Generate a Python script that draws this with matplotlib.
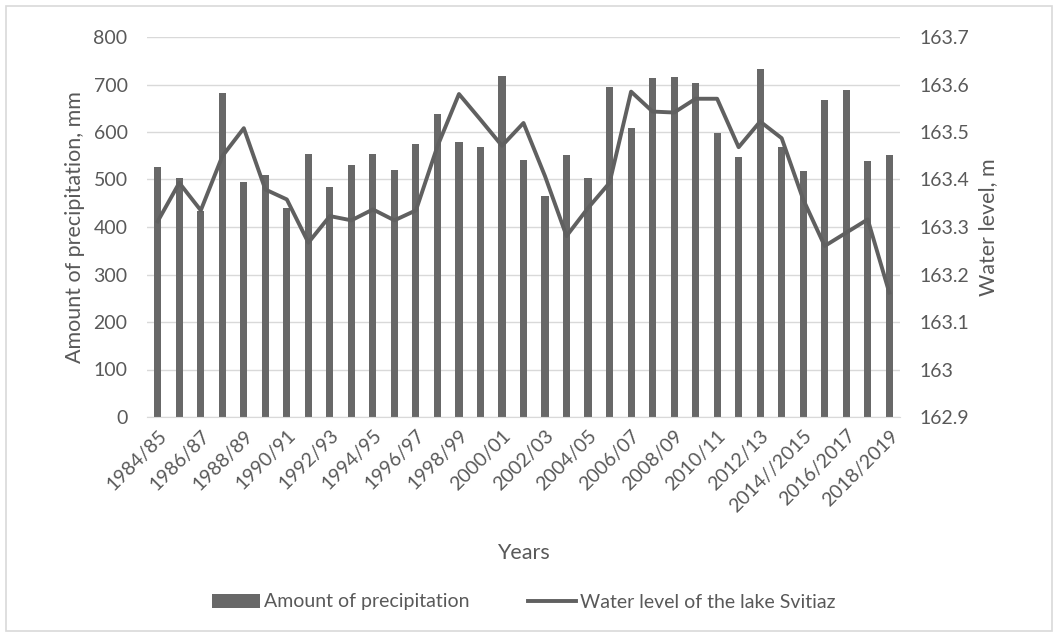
import numpy as np
import matplotlib
matplotlib.use("Agg")
from matplotlib import pyplot as plt
from matplotlib.patches import Rectangle

plt.rcParams['font.family'] = ['Lato', 'DejaVu Sans']

years = ["1984/85", "1985/86", "1986/87", "1987/88", "1988/89", "1989/90",
         "1990/91", "1991/92", "1992/93", "1993/94", "1994/95", "1995/96",
         "1996/97", "1997/98", "1998/99", "1999/00", "2000/01", "2001/02",
         "2002/03", "2003/04", "2004/05", "2005/06", "2006/07", "2007/08",
         "2008/09", "2009/10", "2010/11", "2011/12", "2012/13", "2013/14",
         "2014//2015", "2015/2016", "2016/2017", "2017/2018", "2018/2019"]

precipitation = [526, 503, 433, 682, 495, 510, 439, 554, 484, 530,
                 554, 519, 575, 638, 580, 568, 717, 542, 465, 552,
                 503, 694, 608, 713, 715, 703, 598, 547, 732, 568,
                 517, 668, 689, 538, 552]

water_level = [163.312, 163.393, 163.335, 163.449, 163.508, 163.379, 163.358,
               163.267, 163.323, 163.314, 163.337, 163.314, 163.335, 163.47,
               163.58, 163.526, 163.471, 163.519, 163.407, 163.281, 163.340,
               163.393, 163.585, 163.543, 163.541, 163.570, 163.570, 163.468,
               163.522, 163.487, 163.358, 163.260, 163.288, 163.316, 163.162]

txt = "#595959"
fig = plt.figure(figsize=(10.58, 6.37), dpi=100)
ax = fig.add_axes([147/1058, 1 - 417/637, 753/1058, 380/637])
ax2 = ax.twinx()

x = np.arange(len(years))
ax.bar(x, precipitation, width=0.33, color="#686868",
       label="Amount of precipitation", zorder=2)
ax2.plot(x, water_level, color="#606060", linewidth=2.8,
         label="Water level of the lake Svitiaz", zorder=3)

ax.set_xlim(-0.5, len(years) - 0.5)
ax.set_ylim(0, 800)
ax.set_yticks(range(0, 801, 100))
ax2.set_ylim(162.9, 163.7)
ax2.set_yticks(np.round(np.arange(162.9, 163.71, 0.1), 1))
ax2.set_yticklabels(["162.9", "163", "163.1", "163.2", "163.3", "163.4",
                     "163.5", "163.6", "163.7"])

ax.set_xticks(x[::2])
ax.set_xticklabels(years[::2], rotation=45, ha="right",
                   rotation_mode="anchor")
ax.grid(axis="y", color="#d9d9d9", linewidth=1, zorder=0)
ax.set_axisbelow(True)

for a in (ax, ax2):
    for s in a.spines.values():
        s.set_visible(False)
    a.tick_params(length=0, labelsize=14, colors=txt)
ax.spines["bottom"].set_visible(True)
ax.spines["bottom"].set_color("#d9d9d9")
ax.tick_params(axis="y", pad=14)
ax.tick_params(axis="x", pad=7)
ax2.tick_params(axis="y", pad=14)

ax.set_ylabel("Amount of precipitation, mm", fontsize=15.5, color=txt,
              labelpad=6)
ax2.set_ylabel("Water level, m", fontsize=15.5, color=txt, labelpad=6)
ax.set_xlabel("Years", fontsize=15.5, color=txt, labelpad=20)

h1, l1 = ax.get_legend_handles_labels()
h2, l2 = ax2.get_legend_handles_labels()
fig.legend(h1 + h2, l1 + l2, loc="center", bbox_to_anchor=(0.495, 1 - 602/637),
           ncol=2, frameon=False, fontsize=14, labelcolor=txt,
           handlelength=2.5, handletextpad=0.2, columnspacing=3)

fig.patches.append(Rectangle((6/1058, 6/637), 1046/1058, 625/637,
                             transform=fig.transFigure, fill=False,
                             edgecolor="#d9d9d9", linewidth=1.2))

fig.savefig("out.png", dpi=100)
